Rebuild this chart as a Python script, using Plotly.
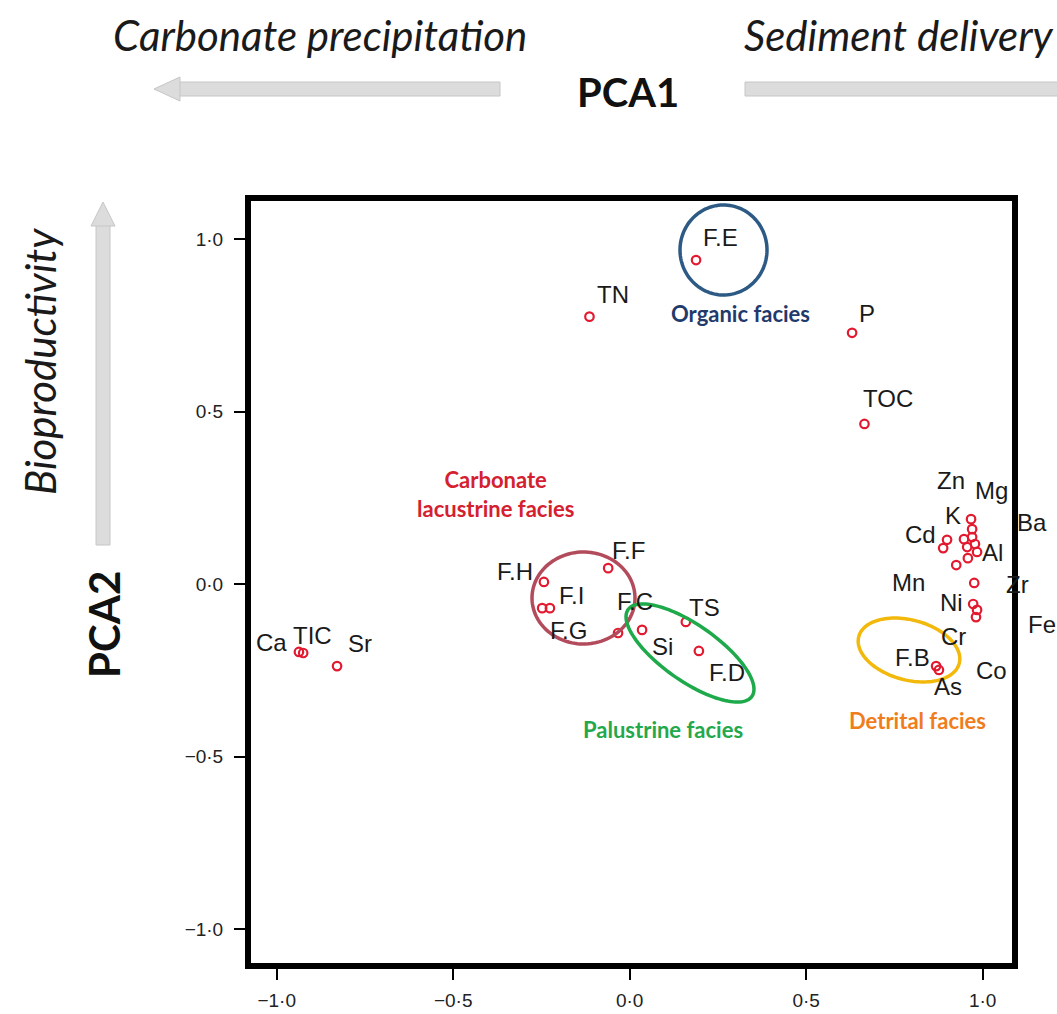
import numpy as np
import plotly.graph_objects as go

# ---------------- data (PCA loadings / scores) ----------------
names = ["F.E", "TN", "P", "TOC",
         "K", "Zn", "Ba", "Mg", "Al", "", "Fe", "", "Cd", "", "Mn",
         "Zr", "Ni", "Cr", "Co", "F.B", "As",
         "Ca", "TIC", "Sr",
         "F.H", "F.F", "F.I", "F.G", "F.C", "Si", "TS", "F.D"]
pca1 = [0.188, -0.114, 0.630, 0.665,
        0.967, 0.970, 0.970, 0.947, 0.978, 0.956, 0.984, 0.958, 0.899, 0.888, 0.925,
        0.976, 0.973, 0.984, 0.981, 0.868, 0.876,
        -0.937, -0.925, -0.829,
        -0.243, -0.061, -0.226, -0.248, -0.033, 0.035, 0.159, 0.196]
pca2 = [0.939, 0.775, 0.728, 0.464,
        0.188, 0.159, 0.136, 0.130, 0.116, 0.107, 0.093, 0.075, 0.128, 0.104, 0.055,
        0.003, -0.058, -0.075, -0.096, -0.238, -0.249,
        -0.197, -0.200, -0.238,
        0.006, 0.046, -0.070, -0.070, -0.142, -0.133, -0.110, -0.194]

tick_vals = [-1.0, -0.5, 0.0, 0.5, 1.0]
tick_text = ["\u22121\u00b70", "\u22120\u00b75", "0\u00b70", "0\u00b75", "1\u00b70"]

facies_names = ["Organic facies", "Carbonate<br>lacustrine facies", "Palustrine facies", "Detrital facies"]

# ---------------- layout / style ----------------
W, H = 1057, 1014
PL, PR, PT, PB = 248, 1015, 198, 966          # plot area in pixels
X0_PX, XS = 629.7, 353.0                      # pixel of x=0, pixels per unit
Y0_PX, YS = 584.0, 345.0
xr = [(PL - X0_PX) / XS, (PR - X0_PX) / XS]
yr = [(Y0_PX - PB) / YS, (Y0_PX - PT) / YS]

def px2x(px): return (px - X0_PX) / XS
def py2y(py): return (Y0_PX - py) / YS
def pxp(px): return (px - PL) / (PR - PL)      # pixel -> paper
def pyp(py): return (PB - py) / (PB - PT)

# label offsets (pixels, screen: dx right, dy up)
label_off = {
    "F.E": (24, 23), "TN": (24, 22), "P": (15, 19), "TOC": (24, 25),
    "K": (-18, 4), "Zn": (-21, 49), "Ba": (60, 15), "Mg": (28, 49), "Al": (18, -9),
    "Fe": (65, -73), "Cd": (-27, 5), "Mn": (-48, -17), "Zr": (43, -2), "Ni": (-22, 2),
    "Cr": (-24, -27), "Co": (16, -53), "F.B": (-24, 9), "As": (9, -17),
    "Ca": (-27, 9), "TIC": (9, 18), "Sr": (23, 23),
    "F.H": (-29, 10), "F.F": (20, 18), "F.I": (22, 13), "F.G": (26, -22),
    "F.C": (17, 31), "Si": (20, -17), "TS": (19, 14), "F.D": (28, -22),
}

fig = go.Figure()
fig.add_trace(go.Scatter(
    x=pca1, y=pca2, mode="markers", text=names, hoverinfo="text",
    marker=dict(symbol="circle-open", size=8.5, color="#e3192f", line=dict(width=2.2, color="#e3192f")),
    showlegend=False, cliponaxis=False))

ann = []
for n, x, y in zip(names, pca1, pca2):
    if n and n in label_off:
        dx, dy = label_off[n]
        ann.append(dict(x=x, y=y, xref="x", yref="y", text=n, showarrow=False,
                        xshift=dx, yshift=dy, xanchor="center", yanchor="middle",
                        font=dict(family="Liberation Sans, Arial", size=24, color="#1a1a1a")))

# facies labels
fac_pos = [(740, 313), (495, 494), (663, 729), (917, 720)]
fac_col = ["#1f3a6b", "#d4202f", "#24a84c", "#f07d1c"]
for t, (px, py), c in zip(facies_names, fac_pos, fac_col):
    ann.append(dict(x=px2x(px), y=py2y(py), xref="x", yref="y", text="<b>" + t + "</b>",
                    showarrow=False, xanchor="center", yanchor="middle",
                    font=dict(family="Lato, Open Sans", size=22, color=c)))

# titles / axis captions outside the frame
ann += [
    dict(x=pxp(320), y=pyp(35), xref="paper", yref="paper", text="<i>Carbonate precipitation</i>",
         showarrow=False, xanchor="center", yanchor="middle",
         font=dict(family="Lato", size=42, color="#1a1a1a")),
    dict(x=pxp(742), y=pyp(35), xref="paper", yref="paper", text="<i>Sediment delivery</i>",
         showarrow=False, xanchor="left", yanchor="middle",
         font=dict(family="Lato", size=42, color="#1a1a1a")),
    dict(x=pxp(628), y=pyp(92), xref="paper", yref="paper", text="<b>PCA1</b>",
         showarrow=False, xanchor="center", yanchor="middle",
         font=dict(family="Lato", size=40, color="#111111")),
    dict(x=pxp(104), y=pyp(625), xref="paper", yref="paper", text="<b>PCA2</b>", textangle=-90,
         showarrow=False, xanchor="center", yanchor="middle",
         font=dict(family="Lato", size=42, color="#111111")),
    dict(x=pxp(40), y=pyp(362), xref="paper", yref="paper", text="<i>Bioproductivity</i>", textangle=-90,
         showarrow=False, xanchor="center", yanchor="middle",
         font=dict(family="Lato", size=42, color="#1a1a1a")),
]

shapes = []

# facies ellipses: (center px, semi-axis a px, semi-axis b px, angle deg, colour)
ellipses = [((723.5, 250), 43.5, 45, 0, "#2c5a85"),
            ((583.5, 598), 51.5, 46, 0, "#b24b5c"),
            ((690, 653), 75.6, 28, 35, "#1eaa4b"),
            ((909, 650), 52, 30, 15, "#f2b90c")]
t = np.linspace(0, 2 * np.pi, 120)
for (cx, cy), a, b, ang, col in ellipses:
    th = np.radians(ang)
    ex = cx + a * np.cos(t) * np.cos(th) - b * np.sin(t) * np.sin(th)
    ey = cy + a * np.cos(t) * np.sin(th) + b * np.sin(t) * np.cos(th)
    path = "M " + " L ".join(f"{px2x(u):.5f},{py2y(v):.5f}" for u, v in zip(ex, ey)) + " Z"
    shapes.append(dict(type="path", path=path, xref="x", yref="y",
                       line=dict(color=col, width=3.5), layer="above"))

# grey arrows
AR_FILL, AR_LINE = "#dcdcdc", "#c6c6c6"
def hbar(x0, x1, yc, h=14):
    return dict(type="rect", xref="paper", yref="paper", x0=pxp(x0), x1=pxp(x1),
                y0=pyp(yc + h / 2), y1=pyp(yc - h / 2), fillcolor=AR_FILL,
                line=dict(color=AR_LINE, width=1), layer="above")
def vbar(xc, y0, y1, w=14):
    return dict(type="rect", xref="paper", yref="paper", x0=pxp(xc - w / 2), x1=pxp(xc + w / 2),
                y0=pyp(y1), y1=pyp(y0), fillcolor=AR_FILL,
                line=dict(color=AR_LINE, width=1), layer="above")
def tri(pts):
    p = "M " + " L ".join(f"{pxp(u):.5f},{pyp(v):.5f}" for u, v in pts) + " Z"
    return dict(type="path", path=p, xref="paper", yref="paper", fillcolor=AR_FILL,
                line=dict(color=AR_LINE, width=1), layer="above")

shapes += [
    hbar(178, 500, 89), tri([(154, 89), (180, 77), (180, 101)]),
    hbar(745, 1060, 89),
    vbar(103, 224, 545), tri([(103, 202), (91, 226), (115, 226)]),
]

# frame
shapes.append(dict(type="rect", xref="paper", yref="paper", x0=0, x1=1, y0=0, y1=1,
                   line=dict(color="black", width=6), layer="above"))

axis_common = dict(showgrid=False, zeroline=False, showline=False, ticks="outside",
                   ticklen=13, tickwidth=2, tickcolor="black", automargin=False,
                   tickvals=tick_vals, ticktext=tick_text,
                   tickfont=dict(family="Liberation Sans, Arial", size=19, color="#222222"))

fig.update_layout(
    width=W, height=H,
    margin=dict(l=PL, r=W - PR, t=PT, b=H - PB, pad=0),
    paper_bgcolor="white", plot_bgcolor="white",
    xaxis=dict(range=xr, ticklabelstandoff=4, **axis_common),
    yaxis=dict(range=yr, ticklabelstandoff=7, **axis_common),
    annotations=ann, shapes=shapes,
)

fig.write_html("out.html", config={"displayModeBar": False},
               post_script="document.body.style.margin='0';")
